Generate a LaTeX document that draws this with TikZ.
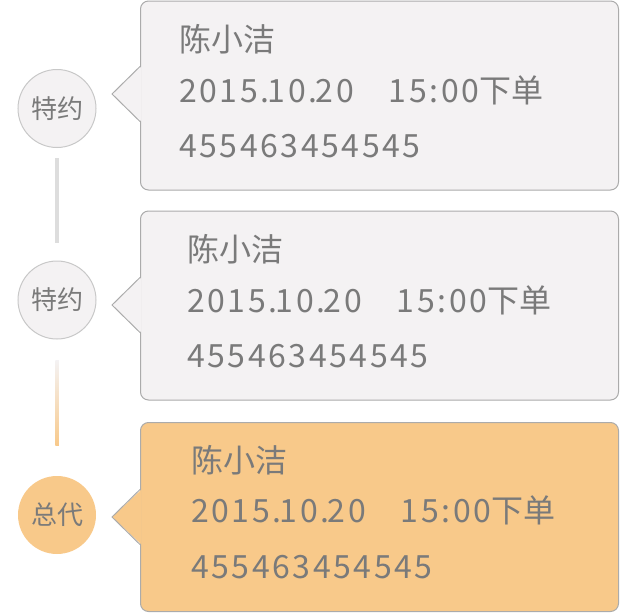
\documentclass[tikz,border=0pt]{standalone}
\usepackage{fontspec}
\setmainfont{Noto Sans CJK SC}
\newfontfamily\digitfont{Noto Sans CJK SC}[LetterSpace=8]
\definecolor{boxfill}{HTML}{F4F2F3}
\definecolor{boxline}{HTML}{ABABAB}
\definecolor{circline}{HTML}{C8C8C8}
\definecolor{txt}{HTML}{7A7A7A}
\definecolor{orangefill}{HTML}{F8C98A}
\definecolor{linkgray}{HTML}{DDDDDD}
\newcommand{\dateline}{{\digitfont 2015.\kern-1.5pt 10.\kern-1.5pt 20}\hspace{35pt}{\digitfont 15:00}下单}
\newcommand{\phoneline}{{\digitfont 455463454545}}
\tikzset{
  callout/.style={draw=boxline, line width=1pt, rounded corners=8pt, minimum width=478pt, minimum height=189pt, inner sep=0pt, anchor=north west},
  dot/.style={circle, minimum size=78pt, inner sep=0pt, text=txt, font=\fontsize{26}{26}\selectfont},
  line/.style={anchor=base west, inner sep=0pt, text=txt, font=\fontsize{32}{32}\selectfont},
}
\begin{document}
\begin{tikzpicture}[x=1pt,y=-1pt]
\useasboundingbox (0,0) rectangle (640,613);
% boxes
\node[callout, fill=boxfill] (b1) at (140,0.5) {};
\node[callout, fill=boxfill] (b2) at (140,210.5) {};
\node[callout, fill=orangefill] (b3) at (140,422) {};
% pointers
\foreach \b/\c/\t in {b1/boxfill/94, b2/boxfill/305, b3/orangefill/517}{
  \fill[\c] (141.5,\t-27.5) -- (112,\t) -- (141.5,\t+27.5) -- cycle;
  \draw[boxline, line width=1pt] ([yshift=-27.5pt]\b.west |- 0,\t) -- (112,\t) -- ([yshift=27.5pt]\b.west |- 0,\t);
}
% circles
\node[dot, fill=boxfill, draw=circline, line width=1pt] (c1) at (57,108.5) {特约};
\node[dot, fill=boxfill, draw=circline, line width=1pt] (c2) at (57,300) {特约};
\node[dot, fill=orangefill] (c3) at (57,515) {总代};
% connectors
\draw[linkgray, line width=3.5pt] ([yshift=-10pt]c1.south) -- ([yshift=18pt]c2.north);
\coordinate (g1) at ([yshift=-21pt]c2.south);
\coordinate (g2) at ([yshift=30pt]c3.north);
\shade[top color=boxfill, bottom color=orangefill] ([xshift=-1.75pt]g1) rectangle ([xshift=1.75pt]g2);
% texts
\node[line] (n1) at (179,51) {陈小洁};
\node[line] (d1) at (179,102) {\dateline};
\node[line] (p1) at (179,157) {\phoneline};
\node[line] (n2) at (187,261) {陈小洁};
\node[line] (d2) at (187,312) {\dateline};
\node[line] (p2) at (187,367) {\phoneline};
\node[line] (n3) at (191,472) {陈小洁};
\node[line] (d3) at (191,522) {\dateline};
\node[line] (p3) at (191,578) {\phoneline};
\end{tikzpicture}
\end{document}
